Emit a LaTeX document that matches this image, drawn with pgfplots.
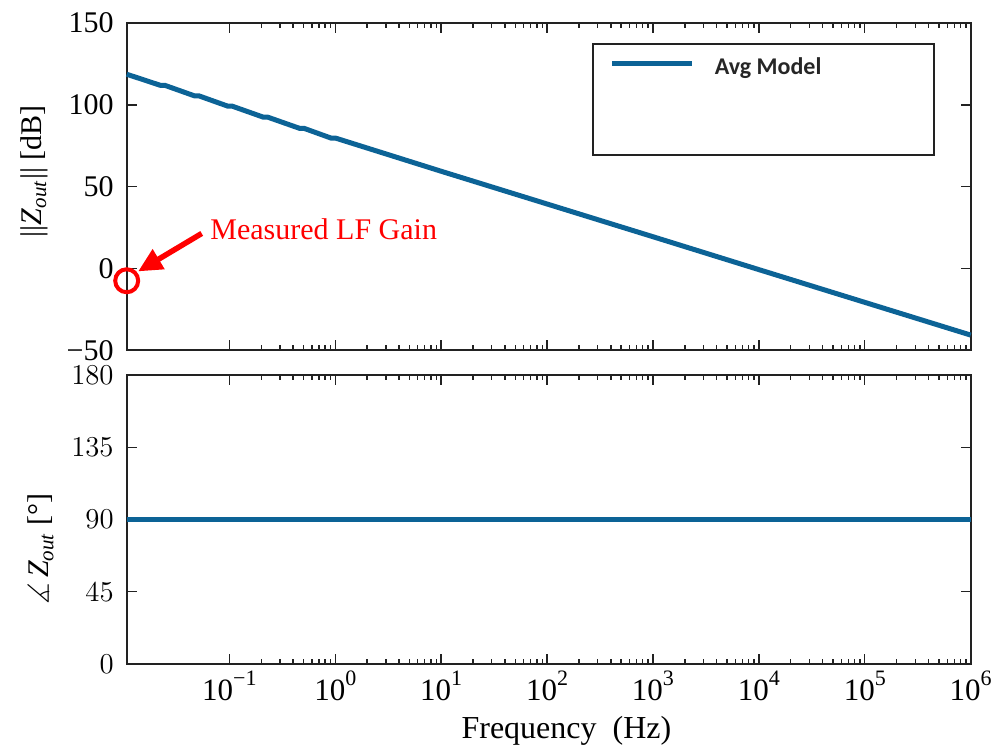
\documentclass[border=0pt]{standalone}
\usepackage{fontspec}
\setmainfont{Liberation Serif}
\newfontfamily\carlito{Carlito}
\usepackage{amssymb}
\usepackage{pgfplots}
\pgfplotsset{compat=1.18}
\usetikzlibrary{arrows.meta}
\definecolor{zline}{RGB}{12,99,150}
\definecolor{axcol}{RGB}{34,34,34}
\newcommand{\dec}[1]{\mbox{\fontsize{15.5}{15.5}\selectfont 10\raisebox{7.5pt}{\fontsize{11}{11}\selectfont #1}}}
\pgfplotsset{
  myax/.style={
    scale only axis, width=422pt, xmin=0.01072, xmax=1e6,
    xtick={1e-1,1,1e1,1e2,1e3,1e4,1e5,1e6},
    tick align=inside, xtick pos=both, ytick pos=both,
    major tick length=5pt, minor tick length=2.5pt,
    axis line style={axcol, line width=0.9pt},
    every tick/.style={axcol, line width=0.7pt},
    tick label style={font=\fontsize{15}{15}\selectfont, text=black},
    yticklabel style={xshift=-3pt},
    clip=false,
  }
}
\begin{document}
\begin{tikzpicture}
\useasboundingbox (-63.35pt,-199.85pt) rectangle (432.65pt,175.15pt);
\begin{semilogxaxis}[myax, at={(0,0)}, anchor=south west, height=163.65pt,
  ymin=-50, ymax=150, ytick={-50,0,50,100,150}, yticklabels={−50,0,50,100,150},
  xticklabels={},
  ylabel={||\textit{Z}\textsubscript{\textit{out}}|| [dB]},
  ylabel style={at={(axis description cs:-0.109,0.547)}, anchor=center, font=\fontsize{15}{15}\selectfont},
  legend style={at={(rel axis cs:0.572,0.877)}, anchor=west, draw=none, fill=none, inner sep=0pt,
    font=\fontsize{12}{14}\carlito\bfseries, text={rgb,255:red,38;green,38;blue,38}},
  legend image code/.code={\draw[zline, line width=2.5pt] (0pt,0pt) -- (40pt,0pt);},
]
\addplot[zline, line width=2.5pt] coordinates {
(0.01072,118.7) (0.02249,111.84) (0.02477,111.84) (0.04710,105.42) (0.05188,105.42)
(0.09661,99.18) (0.1064,99.18) (0.2071,92.56) (0.2280,92.56) (0.4634,85.56)
(0.5105,85.56) (0.9099,79.7) (1.0023,79.7) (10,59.4) (100,39.4) (1000,19.4) (1e4,-0.7) (1e5,-20.7) (1e6,-40.7)
};
\addlegendentry{\hspace{8pt}\raisebox{-4.5pt}{Avg Model}}
\addplot[only marks, mark=o, mark size=5.75pt, red, mark options={line width=2pt}, forget plot]
  coordinates {(0.01072,-7.5)};
\draw[axcol, line width=0.9pt] (rel axis cs:0.5525,0.596) rectangle (rel axis cs:0.9565,0.935);
\draw[red, line width=2.75pt, -{Triangle[length=12pt,width=11pt]}]
  (rel axis cs:0.0889,0.357) -- (rel axis cs:0.0135,0.241);
\node[anchor=base west, text=red, font=\fontsize{15}{15}\selectfont, inner sep=0pt]
  at (rel axis cs:0.0987,0.339) {Measured LF Gain};
\end{semilogxaxis}
\begin{semilogxaxis}[myax, at={(0,-12.35pt)}, anchor=north west, height=144.5pt,
  ymin=0, ymax=180, ytick={0,45,90,135,180},
  xticklabels={\dec{−1},\dec{0},\dec{1},\dec{2},\dec{3},\dec{4},\dec{5},\dec{6}},
  xlabel={Frequency\ \ (Hz)},
  xlabel style={at={(axis description cs:0.521,-0.232)}, anchor=center, font=\fontsize{16}{16}\selectfont},
  ylabel={$\measuredangle$\,\textit{Z}\textsubscript{\textit{out}} [°]},
  ylabel style={at={(axis description cs:-0.1017,0.398)}, anchor=center, font=\fontsize{15}{15}\selectfont},
]
\addplot[zline, line width=2.5pt] coordinates {(0.01072,90) (1e6,90)};
\end{semilogxaxis}
\end{tikzpicture}
\end{document}
